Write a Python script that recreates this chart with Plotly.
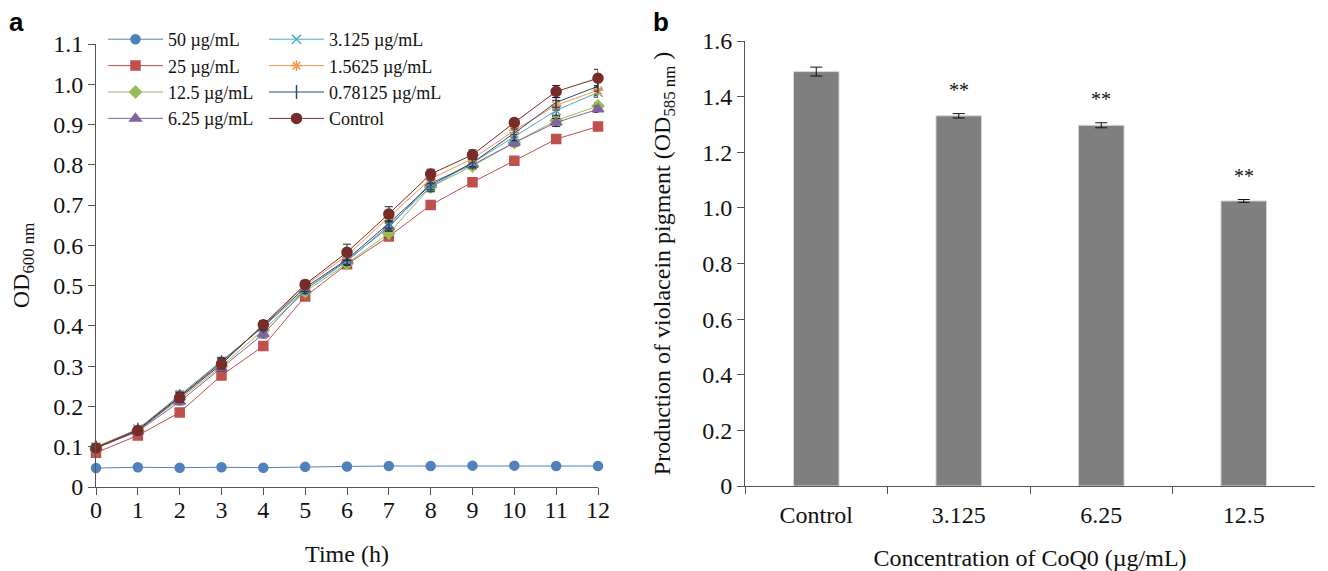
import plotly.graph_objects as go

# ---------------- Data: panel a ----------------
hours = list(range(13))
od_50 = [0.047, 0.049, 0.048, 0.049, 0.048, 0.050, 0.051, 0.052, 0.052, 0.053, 0.053, 0.052, 0.052]
od_25 = [0.085, 0.128, 0.185, 0.277, 0.350, 0.473, 0.553, 0.622, 0.700, 0.757, 0.810, 0.864, 0.895]
od_12_5 = [0.096, 0.140, 0.218, 0.300, 0.390, 0.485, 0.555, 0.630, 0.745, 0.797, 0.855, 0.910, 0.946]
od_6_25 = [0.097, 0.138, 0.212, 0.295, 0.380, 0.490, 0.563, 0.645, 0.755, 0.800, 0.855, 0.905, 0.938]
od_3_125 = [0.099, 0.144, 0.228, 0.312, 0.398, 0.490, 0.560, 0.650, 0.745, 0.805, 0.870, 0.935, 0.980]
od_1_5625 = [0.100, 0.143, 0.223, 0.308, 0.402, 0.500, 0.575, 0.670, 0.765, 0.815, 0.885, 0.948, 0.985]
od_0_78125 = [0.098, 0.142, 0.225, 0.310, 0.400, 0.495, 0.565, 0.655, 0.750, 0.805, 0.879, 0.955, 0.995]
od_control = [0.097, 0.140, 0.222, 0.305, 0.403, 0.503, 0.583, 0.678, 0.777, 0.825, 0.905, 0.982, 1.015]

err_50 = [0.002] * 13
err_25 = [0.004, 0.005, 0.006, 0.006, 0.008, 0.010, 0.008, 0.010, 0.006, 0.005, 0.005, 0.006, 0.005]
err_12_5 = [0.004, 0.005, 0.008, 0.008, 0.008, 0.008, 0.008, 0.010, 0.010, 0.008, 0.008, 0.010, 0.008]
err_6_25 = [0.004, 0.005, 0.008, 0.008, 0.010, 0.008, 0.010, 0.010, 0.010, 0.008, 0.008, 0.010, 0.008]
err_3_125 = [0.004, 0.005, 0.010, 0.010, 0.010, 0.010, 0.010, 0.012, 0.012, 0.010, 0.010, 0.012, 0.012]
err_1_5625 = [0.004, 0.005, 0.010, 0.010, 0.010, 0.010, 0.012, 0.012, 0.012, 0.010, 0.010, 0.012, 0.012]
err_0_78125 = [0.004, 0.005, 0.010, 0.010, 0.010, 0.010, 0.012, 0.012, 0.012, 0.010, 0.010, 0.012, 0.012]
err_control = [0.006, 0.006, 0.012, 0.012, 0.010, 0.010, 0.020, 0.018, 0.012, 0.012, 0.010, 0.015, 0.022]

series_names = ["50 µg/mL", "25 µg/mL", "12.5 µg/mL", "6.25 µg/mL",
                "3.125 µg/mL", "1.5625 µg/mL", "0.78125 µg/mL", "Control"]

ya_ticks = [0, 0.1, 0.2, 0.3, 0.4, 0.5, 0.6, 0.7, 0.8, 0.9, 1.0, 1.1]
ya_ticktext = ["0", "0.1", "0.2", "0.3", "0.4", "0.5", "0.6", "0.7", "0.8", "0.9", "1.0", "1.1"]

# ---------------- Data: panel b ----------------
conc_labels = ["Control", "3.125", "6.25", "12.5"]
violacein = [1.490, 1.331, 1.297, 1.025]
violacein_err = [0.016, 0.008, 0.009, 0.005]
significance = ["", "**", "**", "**"]

yb_ticks = [0, 0.2, 0.4, 0.6, 0.8, 1.0, 1.2, 1.4, 1.6]
yb_ticktext = ["0", "0.2", "0.4", "0.6", "0.8", "1.0", "1.2", "1.4", "1.6"]

# ---------------- Figure ----------------
OFF = 8                 # page body margin
W, H = 1328 - OFF, 571 - OFF
SERIF = "Liberation Serif"


def px_x(p):
    return (p - OFF) / W


def px_y(p):
    return 1 - (p - OFF) / H


fig = go.Figure()

styles = [
    dict(color="#4F81BD", symbol="circle", size=9, legend="legend"),
    dict(color="#C0504D", symbol="square", size=9, legend="legend"),
    dict(color="#9BBB59", symbol="diamond", size=9, legend="legend"),
    dict(color="#8064A2", symbol="triangle-up", size=10, legend="legend"),
    dict(color="#4BACC6", symbol="x-thin-open", size=9, legend="legend2"),
    dict(color="#F79646", symbol="asterisk-open", size=9, legend="legend2"),
    dict(color="#2C4D75", symbol="line-ns-open", size=10, legend="legend2"),
    dict(color="#772C2A", symbol="circle", size=10, legend="legend2"),
]
values = [od_50, od_25, od_12_5, od_6_25, od_3_125, od_1_5625, od_0_78125, od_control]
errors = [err_50, err_25, err_12_5, err_6_25, err_3_125, err_1_5625, err_0_78125, err_control]

for name, vals, errs, st in zip(series_names, values, errors, styles):
    fig.add_trace(go.Scatter(
        x=hours, y=vals, name=name, mode="lines+markers",
        line=dict(color=st["color"], width=1),
        marker=dict(color=st["color"], symbol=st["symbol"], size=st["size"],
                    line=dict(color=st["color"], width=1.5)),
        error_y=dict(type="data", array=errs, visible=True, color="#222222",
                     thickness=1, width=4),
        xaxis="x", yaxis="y", cliponaxis=False, legend=st["legend"],
    ))

fig.add_trace(go.Bar(
    x=conc_labels, y=violacein, name="Violacein",
    marker=dict(color="#7F7F7F", line=dict(color="#D9D9D9", width=1)),
    width=0.32,
    error_y=dict(type="data", array=violacein_err, visible=True, color="#111111",
                 thickness=1, width=6),
    xaxis="x2", yaxis="y2", showlegend=False,
))

for i, (v, e, s) in enumerate(zip(violacein, violacein_err, significance)):
    if s:
        fig.add_annotation(x=i, y=v + e, xref="x2", yref="y2", text=s,
                           showarrow=False, yanchor="bottom", yshift=11,
                           font=dict(family=SERIF, size=20, color="#111111"))

axis_common = dict(showline=True, linecolor="#555555", linewidth=1, ticks="outside",
                   ticklen=7, tickcolor="#555555", showgrid=False, zeroline=False,
                   tickfont=dict(family=SERIF, size=24, color="#111111"))

legend_font = dict(family=SERIF, size=18, color="#111111")

fig.update_layout(
    width=W, height=H,
    margin=dict(l=0, r=0, t=0, b=0),
    paper_bgcolor="white", plot_bgcolor="white",
    font=dict(family=SERIF, color="#111111"),
    xaxis=dict(domain=[px_x(96), px_x(598)], range=[0, 12], tickvals=hours,
               ticklabelstandoff=-6,
               title=dict(text="Time (h)", font=dict(family=SERIF, size=24), standoff=23),
               anchor="y", automargin=False, **axis_common),
    yaxis=dict(domain=[px_y(487), px_y(44)], range=[0, 1.1],
               tickvals=ya_ticks, ticktext=ya_ticktext,
               title=dict(text="OD<sub>600 nm</sub>", font=dict(family=SERIF, size=24), standoff=22),
               anchor="x", automargin=False, **axis_common),
    xaxis2=dict(domain=[px_x(745), px_x(1315)], range=[-0.5, 3.5], type="category",
                tickson="boundaries", ticklabelstandoff=7,
                title=dict(text="Concentration of CoQ0 (µg/mL)", font=dict(family=SERIF, size=24), standoff=22),
                anchor="y2", automargin=False, **axis_common),
    yaxis2=dict(domain=[px_y(486), px_y(41)], range=[0, 1.6],
                tickvals=yb_ticks, ticktext=yb_ticktext,
                title=dict(text="Production of violacein pigment (OD<sub>585 nm</sub> )",
                           font=dict(family=SERIF, size=24), standoff=24),
                anchor="x2", automargin=False, **axis_common),
    legend=dict(x=px_x(103), y=px_y(21), xanchor="left", yanchor="top",
                bgcolor="rgba(0,0,0,0)", font=legend_font,
                tracegroupgap=0, itemwidth=55),
    legend2=dict(x=px_x(264), y=px_y(21), xanchor="left", yanchor="top",
                 bgcolor="rgba(0,0,0,0)", font=legend_font,
                 tracegroupgap=0, itemwidth=55),
    showlegend=True,
)

fig.add_annotation(x=px_x(7), y=px_y(5), xref="paper", yref="paper", text="<b>a</b>",
                   showarrow=False, xanchor="left", yanchor="top",
                   font=dict(family="Liberation Sans", size=26, color="#000000"))
fig.add_annotation(x=px_x(651), y=px_y(5), xref="paper", yref="paper", text="<b>b</b>",
                   showarrow=False, xanchor="left", yanchor="top",
                   font=dict(family="Liberation Sans", size=26, color="#000000"))

fig.write_html("out.html")
